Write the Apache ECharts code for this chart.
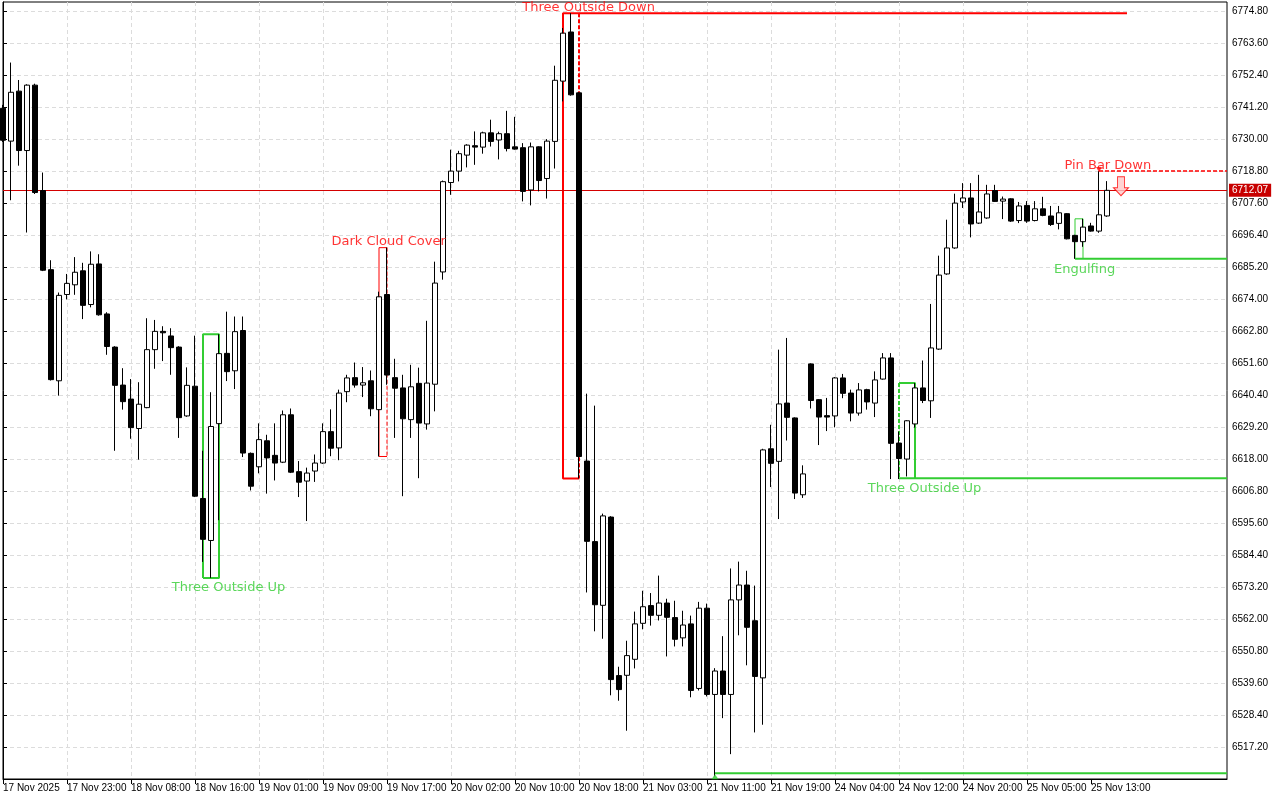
<!DOCTYPE html>
<html>
<head>
<meta charset="utf-8">
<title>US500 H1</title>
<script src="https://cdn.jsdelivr.net/npm/echarts@6.0.0/dist/echarts.min.js"></script>
<style>
  html, body { margin: 0; padding: 0; background: #fff; }
  #chart { width: 1280px; height: 800px; }
</style>
</head>
<body>
<div id="chart"></div>
<script>
// hourly bars, 17 Nov 15:00 .. 25 Nov 17:00
const openP = [
  6740.8, 6729.3, 6746.8, 6726.0, 6748.9, 6712.0, 6684.3, 6645.4, 6675.6, 6679.0,
  6683.9, 6672.1, 6686.3, 6668.8, 6657.2, 6643.9, 6639.0, 6628.7, 6636.0, 6656.3,
  6662.7, 6661.1, 6657.2, 6633.1, 6643.5, 6604.2, 6589.5, 6630.4, 6655.0, 6648.9,
  6663.0, 6620.0, 6615.3, 6624.4, 6619.3, 6616.9, 6633.5, 6613.6, 6610.3, 6613.8,
  6616.6, 6627.6, 6621.9, 6641.6, 6646.5, 6643.9, 6645.4, 6635.3, 6675.6, 6646.5,
  6642.9, 6631.8, 6644.5, 6630.3, 6644.2, 6683.5, 6714.8, 6718.8, 6724.4, 6727.7,
  6727.2, 6732.2, 6729.7, 6731.9, 6727.3, 6727.0, 6712.2, 6727.3, 6716.2, 6729.2,
  6750.3, 6767.5, 6746.2, 6617.3, 6589.1, 6566.8, 6597.7, 6542.2, 6542.3, 6547.9,
  6560.5, 6566.7, 6563.3, 6567.6, 6562.5, 6555.4, 6560.3, 6537.7, 6565.8, 6535.6,
  6543.8, 6535.6, 6568.7, 6573.9, 6561.4, 6541.4, 6621.6, 6617.2, 6637.6, 6632.4,
  6605.5, 6651.3, 6638.8, 6633.2, 6633.1, 6646.4, 6641.1, 6634.1, 6642.3, 6637.6,
  6646.0, 6653.4, 6623.6, 6618.0, 6630.3, 6642.9, 6638.4, 6656.5, 6682.8, 6691.9,
  6708.0, 6709.4, 6700.6, 6702.4, 6712.0, 6708.3, 6709.1, 6701.5, 6706.8, 6701.5,
  6705.6, 6703.1, 6700.5, 6703.9, 6696.3, 6694.1, 6699.6, 6697.8, 6703.1
];
const closeP = [
  6729.6, 6746.4, 6726.0, 6748.9, 6711.3, 6684.1, 6645.8, 6675.3, 6679.5, 6683.4,
  6671.8, 6686.2, 6668.5, 6657.4, 6643.8, 6638.1, 6629.0, 6637.2, 6656.3, 6662.7,
  6662.2, 6657.0, 6632.5, 6643.8, 6605.0, 6589.9, 6629.4, 6654.9, 6648.6, 6662.6,
  6620.1, 6608.5, 6624.8, 6618.4, 6616.6, 6633.5, 6613.4, 6609.9, 6613.1, 6616.6,
  6627.6, 6621.8, 6641.1, 6646.4, 6643.9, 6644.7, 6635.6, 6674.8, 6647.4, 6642.8,
  6632.1, 6643.3, 6630.6, 6644.6, 6679.6, 6715.1, 6718.8, 6724.9, 6727.9, 6727.2,
  6732.2, 6729.2, 6731.9, 6726.7, 6726.5, 6711.7, 6727.3, 6715.5, 6729.3, 6750.6,
  6767.1, 6745.5, 6618.9, 6589.2, 6567.0, 6598.1, 6540.8, 6537.3, 6549.2, 6560.3,
  6566.3, 6563.3, 6567.6, 6562.6, 6554.9, 6559.9, 6537.0, 6565.8, 6535.6, 6543.8,
  6535.6, 6568.7, 6573.9, 6559.1, 6541.9, 6621.2, 6616.5, 6637.3, 6632.6, 6606.1,
  6612.8, 6638.5, 6632.7, 6632.7, 6646.4, 6641.0, 6634.1, 6642.2, 6638.0, 6645.7,
  6653.4, 6623.5, 6618.2, 6631.4, 6642.9, 6638.5, 6656.9, 6682.4, 6691.9, 6707.6,
  6709.4, 6700.3, 6704.5, 6710.8, 6708.2, 6709.0, 6701.3, 6706.6, 6701.3, 6705.6,
  6703.3, 6700.1, 6704.2, 6695.1, 6694.1, 6699.2, 6697.8, 6703.5, 6712.07
];
const lowP = [
  6729.0, 6708.6, 6720.7, 6697.3, 6710.8, 6683.8, 6645.5, 6640.2, 6673.9, 6675.5,
  6667.0, 6671.1, 6668.2, 6654.5, 6620.9, 6635.3, 6625.1, 6617.8, 6635.8, 6649.6,
  6652.3, 6647.5, 6625.4, 6632.8, 6604.7, 6582.0, 6576.4, 6596.6, 6645.3, 6642.5,
  6618.7, 6607.0, 6613.0, 6605.9, 6610.5, 6616.6, 6613.1, 6604.7, 6596.3, 6610.0,
  6616.3, 6619.0, 6617.6, 6637.9, 6643.0, 6639.7, 6633.0, 6618.9, 6644.0, 6625.4,
  6605.0, 6625.4, 6611.3, 6628.3, 6634.7, 6680.8, 6710.5, 6715.2, 6720.1, 6721.0,
  6724.9, 6727.4, 6722.9, 6725.7, 6726.3, 6708.2, 6706.8, 6711.7, 6709.2, 6719.7,
  6743.2, 6745.2, 6611.2, 6571.3, 6557.7, 6555.1, 6535.3, 6533.4, 6522.9, 6544.7,
  6558.4, 6559.7, 6561.5, 6548.9, 6552.4, 6552.4, 6534.6, 6537.0, 6534.9, 6506.9,
  6527.3, 6514.7, 6556.3, 6545.8, 6522.3, 6525.0, 6608.2, 6597.0, 6624.5, 6604.0,
  6604.4, 6635.7, 6622.9, 6627.8, 6629.1, 6639.3, 6631.2, 6633.2, 6635.3, 6632.7,
  6645.8, 6611.0, 6611.0, 6611.9, 6629.0, 6637.6, 6632.4, 6656.2, 6682.5, 6691.6,
  6705.9, 6695.6, 6700.3, 6702.1, 6708.0, 6702.0, 6701.0, 6700.6, 6700.7, 6701.2,
  6703.0, 6699.6, 6698.4, 6694.9, 6688.1, 6692.3, 6697.6, 6697.2, 6702.8
];
const highP = [
  6742.0, 6756.8, 6750.7, 6749.2, 6749.4, 6718.3, 6687.6, 6676.3, 6682.8, 6688.7,
  6686.7, 6690.7, 6689.7, 6669.4, 6657.5, 6649.8, 6646.0, 6644.9, 6667.3, 6666.7,
  6664.5, 6663.8, 6657.5, 6650.1, 6661.2, 6620.9, 6641.4, 6661.7, 6669.6, 6667.9,
  6667.9, 6620.3, 6630.5, 6626.5, 6630.5, 6635.0, 6635.7, 6617.3, 6615.0, 6619.6,
  6630.5, 6635.4, 6642.3, 6647.5, 6651.8, 6650.2, 6649.0, 6676.6, 6692.0, 6653.1,
  6647.5, 6651.0, 6650.0, 6666.4, 6687.1, 6715.5, 6726.3, 6725.9, 6728.2, 6732.7,
  6732.6, 6736.8, 6732.6, 6739.9, 6737.8, 6728.6, 6728.8, 6727.5, 6730.0, 6755.7,
  6768.9, 6774.1, 6746.4, 6640.9, 6636.7, 6598.9, 6598.0, 6545.3, 6554.4, 6564.6,
  6571.9, 6571.1, 6577.2, 6569.1, 6568.4, 6564.9, 6563.2, 6568.0, 6567.4, 6544.8,
  6556.0, 6579.7, 6582.1, 6578.9, 6573.7, 6621.6, 6630.0, 6656.3, 6660.4, 6632.6,
  6615.8, 6651.5, 6639.0, 6639.4, 6646.7, 6647.8, 6642.3, 6644.6, 6642.6, 6648.7,
  6655.1, 6655.1, 6627.6, 6631.6, 6644.6, 6652.5, 6672.3, 6689.2, 6701.8, 6710.9,
  6714.6, 6714.6, 6717.5, 6714.0, 6714.0, 6709.9, 6709.3, 6708.0, 6708.3, 6708.3,
  6709.8, 6706.6, 6706.6, 6704.1, 6696.5, 6702.1, 6700.7, 6718.8, 6715.3
];

// time labels, one every 8 bars
const tickLabels = [
  '17 Nov 2025', '17 Nov 23:00', '18 Nov 08:00', '18 Nov 16:00', '19 Nov 01:00',
  '19 Nov 09:00', '19 Nov 17:00', '20 Nov 02:00', '20 Nov 10:00', '20 Nov 18:00',
  '21 Nov 03:00', '21 Nov 11:00', '21 Nov 19:00', '24 Nov 04:00', '24 Nov 12:00',
  '24 Nov 20:00', '25 Nov 05:00', '25 Nov 13:00'
];

// pattern boxes: [first bar, last bar, top, bottom]
const threeOutsideDown = [70, 72, 6774.1, 6611.2];
const darkCloudCover = [47, 48, 6692.0, 6618.9];
const threeOutsideUpA = [25, 27, 6661.7, 6576.4];
const threeOutsideUpB = [112, 114, 6644.6, 6611.3];
const engulfing = [134, 135, 6702.1, 6688.1];
const pinBarDown = [137, 6718.8];
const supportLow = [89, 6508.0];
const resistanceEnd = 140.5;
const lastPrice = 6712.07;

// text labels: [bar, price, text]
const redNotes = [
  [73.2, 6776.0, 'Three Outside Down'],
  [48.2, 6694.0, 'Dark Cloud Cover'],
  [138.1, 6720.6, 'Pin Bar Down']
];
const greenNotes = [
  [28.2, 6572.9, 'Three Outside Up'],
  [115.2, 6607.6, 'Three Outside Up'],
  [135.2, 6684.2, 'Engulfing']
];

const RED = '#ff0000';
const GREEN = '#32cd32';
const AXIS_FONT = 'Liberation Sans, Arial, sans-serif';
const NOTE_FONT = 'DejaVu Sans, Verdana, sans-serif';
const LAST_BAR = 153; // right edge of plot, in bars

const bars = openP.map((o, i) => [i, o, closeP[i], lowP[i], highP[i]]);
const tickBars = tickLabels.map((_, k) => k * 8);

function seg(points, color, width, dashed) {
  return {
    type: 'line',
    data: points,
    symbol: 'none',
    silent: true,
    z: 3,
    lineStyle: { color: color, width: width, type: dashed ? [4, 2] : 'solid' }
  };
}

function notes(list, color) {
  return {
    type: 'scatter',
    data: list,
    symbolSize: 1,
    itemStyle: { color: 'rgba(0,0,0,0)' },
    silent: true,
    clip: false,
    z: 12,
    label: {
      show: true,
      position: 'inside',
      formatter: (p) => p.data[2],
      color: color,
      textBorderWidth: 0,
      fontFamily: NOTE_FONT,
      fontSize: 13
    }
  };
}

const tod = threeOutsideDown, dcc = darkCloudCover, tuA = threeOutsideUpA, tuB = threeOutsideUpB, eng = engulfing;

const series = [
  // three outside down + resistance level
  seg([[tod[1], tod[3]], [tod[0], tod[3]], [tod[0], tod[2]], [resistanceEnd, tod[2]]], RED, 2, false),
  seg([[tod[1], tod[2]], [tod[1], tod[3]]], RED, 2, true),
  // dark cloud cover
  seg([[dcc[1], dcc[3]], [dcc[0], dcc[3]], [dcc[0], dcc[2]], [dcc[1], dcc[2]]], RED, 1, false),
  seg([[dcc[1], dcc[2]], [dcc[1], dcc[3]]], RED, 1, true),
  // three outside up (18 Nov)
  seg([[tuA[0], tuA[3]], [tuA[0], tuA[2]], [tuA[1], tuA[2]], [tuA[1], tuA[3]], [tuA[0], tuA[3]]], GREEN, 2, false),
  // three outside up (24 Nov) + support
  seg([[tuB[0], tuB[2]], [tuB[1], tuB[2]], [tuB[1], tuB[3]]], GREEN, 2, false),
  seg([[tuB[0], tuB[3]], [LAST_BAR, tuB[3]]], GREEN, 2, false),
  seg([[tuB[0], tuB[2]], [tuB[0], tuB[3]]], GREEN, 2, true),
  // engulfing + support
  seg([[eng[0], eng[3]], [eng[0], eng[2]], [eng[1], eng[2]], [eng[1], eng[3]]], GREEN, 1, false),
  seg([[eng[0], eng[3]], [LAST_BAR, eng[3]]], GREEN, 2, false),
  // pin bar level
  seg([[pinBarDown[0], pinBarDown[1]], [LAST_BAR, pinBarDown[1]]], RED, 1.5, true),
  // weekly low support
  seg([[supportLow[0], supportLow[1]], [LAST_BAR, supportLow[1]]], GREEN, 2, false),
  // last price line with axis tag
  {
    type: 'line',
    data: [],
    silent: true,
    markLine: {
      symbol: 'none',
      silent: true,
      animation: false,
      data: [{ yAxis: lastPrice }],
      lineStyle: { color: '#d40000', width: 1, type: 'solid' },
      label: {
        position: 'end',
        distance: 2,
        formatter: lastPrice.toFixed(2),
        color: '#fff',
        backgroundColor: '#c80000',
        padding: [2, 3, 1, 3],
        fontFamily: AXIS_FONT,
        fontSize: 10
      }
    }
  },
  {
    type: 'candlestick',
    data: bars,
    encode: { x: 0, y: [1, 2, 3, 4] },
    barWidth: 5,
    z: 10,
    silent: true,
    itemStyle: {
      color: '#fff',
      color0: '#000',
      borderColor: '#000',
      borderColor0: '#000',
      borderWidth: 1
    }
  },
  // small markers
  {
    type: 'scatter',
    data: [[pinBarDown[0], pinBarDown[1] + 0.6]],
    symbol: 'triangle',
    symbolRotate: 180,
    symbolSize: [6, 5],
    itemStyle: { color: RED },
    silent: true,
    z: 11
  },
  {
    type: 'scatter',
    data: [[supportLow[0], supportLow[1] - 1.2]],
    symbol: 'triangle',
    symbolSize: [7, 5],
    itemStyle: { color: GREEN },
    silent: true,
    z: 11
  },
  {
    type: 'scatter',
    data: [[139.75, 6713.5]],
    symbol: 'path://M4,0 L11,0 L11,11 L15,11 L7.5,19 L0,11 L4,11 Z',
    symbolSize: [15, 19],
    itemStyle: { color: '#ffc8c8', borderColor: RED, borderWidth: 1 },
    silent: true,
    z: 11
  },
  notes(redNotes, RED),
  notes(greenNotes, GREEN)
];

const chart = echarts.init(document.getElementById('chart'));

const option = {
  backgroundColor: '#fff',
  animation: false,
  grid: {
    left: 3,
    right: 53,
    top: 2,
    bottom: 21,
    show: true,
    borderColor: '#000',
    borderWidth: 1,
    backgroundColor: '#fff'
  },
  xAxis: {
    type: 'value',
    min: 0,
    max: LAST_BAR,
    interval: 4,
    axisLine: { show: true, onZero: false, lineStyle: { color: '#000', width: 1 } },
    axisTick: { show: true, customValues: tickBars, length: 5, lineStyle: { color: '#000' } },
    axisLabel: {
      customValues: tickBars,
      formatter: (v) => {
        const k = tickBars.indexOf(Math.round(v));
        return k >= 0 ? tickLabels[k] : '';
      },
      align: 'left',
      margin: 4,
      color: '#000',
      fontFamily: AXIS_FONT,
      fontSize: 10
    },
    splitLine: {
      show: true,
      showMinLine: false,
      showMaxLine: false,
      lineStyle: { color: '#dcdcdc', width: 1, type: [4, 3] }
    }
  },
  yAxis: {
    type: 'value',
    position: 'right',
    min: 6506.0,
    max: 6778.0,
    interval: 11.2,
    axisLine: { show: true, lineStyle: { color: '#000', width: 1 } },
    axisTick: { show: true, length: 4, lineStyle: { color: '#000' } },
    axisLabel: {
      showMinLabel: false,
      showMaxLabel: false,
      formatter: (v) => v.toFixed(2),
      margin: 5,
      color: '#000',
      fontFamily: AXIS_FONT,
      fontSize: 10
    },
    splitLine: {
      show: true,
      showMinLine: false,
      showMaxLine: false,
      lineStyle: { color: '#dcdcdc', width: 1, type: [4, 3] }
    }
  },
  series: series
};

chart.setOption(option);
</script>
</body>
</html>
